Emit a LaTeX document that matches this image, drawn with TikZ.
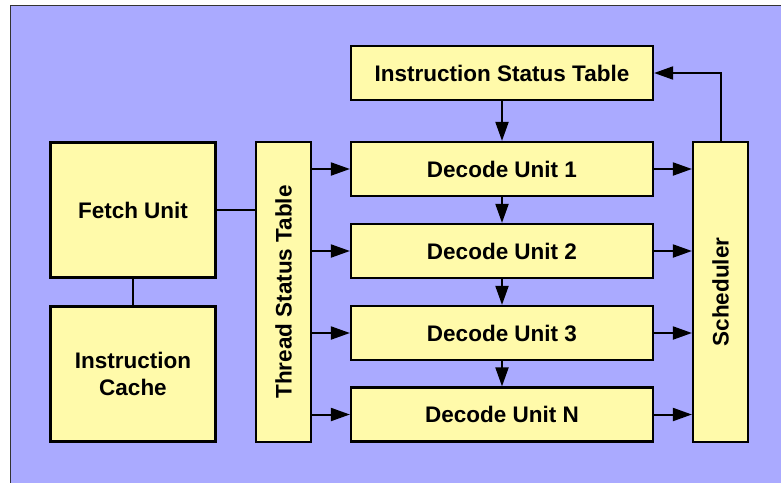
\documentclass[tikz,border=0pt]{standalone}
\usepackage{fontspec}
\setmainfont{Liberation Sans}
\usetikzlibrary{arrows.meta}
\definecolor{panel}{HTML}{AAAAFF}
\definecolor{boxfill}{HTML}{FFFAAA}
\tikzset{
  block/.style={draw=black, line width=2.2pt, fill=boxfill, inner sep=0pt,
    font=\fontsize{22.5}{27}\selectfont\bfseries, align=center},
  wide/.style={block, minimum width=302pt, minimum height=54pt},
  tall/.style={block, minimum width=55pt, minimum height=300pt},
  big/.style={block, minimum width=165pt, minimum height=135pt},
  link/.style={draw=black, line width=2pt},
  flow/.style={link, -{Triangle[length=19pt,width=13pt]}}
}
\begin{document}
\begin{tikzpicture}[x=1pt, y=-1pt]
  \useasboundingbox (0,0) rectangle (781,482);
  % backdrop panel
  \fill[white] (0,0) rectangle (781,482);
  \draw[fill=panel, draw=black!80, line width=1pt] (10,5) rectangle (790,490);

  % decode column
  \node[wide] (ist) at (502,73) {Instruction Status Table};
  \node[wide] (du1) at (502,169) {Decode Unit 1};
  \node[wide] (du2) at (502,251) {Decode Unit 2};
  \node[wide] (du3) at (502,333) {Decode Unit 3};
  \node[wide] (duN) at (502,414.5) {Decode Unit N};

  % side tables
  \node[tall] (tst) at (283.5,292) {\rotatebox{90}{Thread Status Table}};
  \node[tall] (sched) at (720.5,292) {\rotatebox{90}{Scheduler}};

  % front end
  \node[big] (fetch) at (133,210) {Fetch Unit};
  \node[big] (cache) at (133,374) {Instruction\\Cache};

  % plain links
  \draw[link] (fetch.east) -- (fetch.east -| tst.west);
  \draw[link] (fetch.south) -- (cache.north);

  % vertical chain
  \draw[flow] (ist.south) -- (du1.north);
  \draw[flow] (du1.south) -- (du2.north);
  \draw[flow] (du2.south) -- (du3.north);
  \draw[flow] (du3.south) -- (duN.north);

  % thread table to decoders, decoders to scheduler
  \foreach \d in {du1,du2,du3,duN}{
    \draw[flow] (tst.east |- \d.west) -- (\d.west);
    \draw[flow] (\d.east) -- (\d.east -| sched.west);
  }

  % scheduler feedback
  \draw[flow] (sched.north) |- (ist.east);
\end{tikzpicture}
\end{document}
